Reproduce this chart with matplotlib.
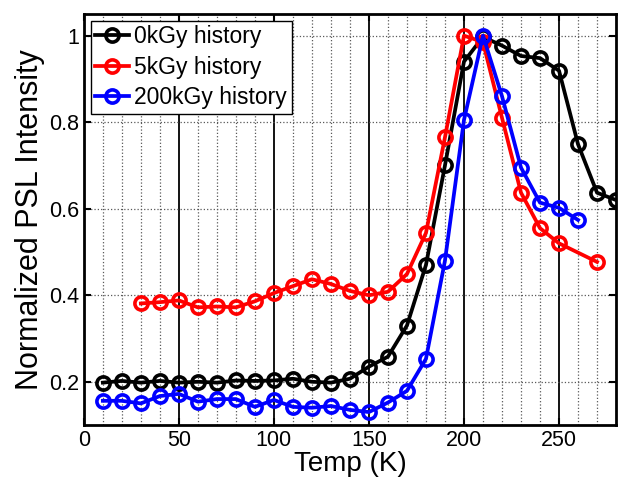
import numpy as np
import matplotlib
matplotlib.use("Agg")
import matplotlib.pyplot as plt
from matplotlib.ticker import MultipleLocator

plt.rcParams['font.family'] = ['Liberation Sans', 'DejaVu Sans']

# datos
T0 = [10, 20, 30, 40, 50, 60, 70, 80, 90, 100, 110, 120, 130, 140, 150,
      160, 170, 180, 190, 200, 210, 220, 230, 240, 250, 260, 270, 280]
I0 = [0.198, 0.202, 0.198, 0.202, 0.198, 0.200, 0.198, 0.203, 0.202, 0.203,
      0.207, 0.200, 0.198, 0.207, 0.235, 0.258, 0.330, 0.470, 0.700, 0.940,
      0.997, 0.977, 0.953, 0.948, 0.919, 0.749, 0.637, 0.620]

T5 = [30, 40, 50, 60, 70, 80, 90, 100, 110, 120, 130, 140, 150, 160, 170,
      180, 190, 200, 210, 220, 230, 240, 250, 270]
I5 = [0.381, 0.384, 0.388, 0.372, 0.374, 0.372, 0.386, 0.405, 0.421, 0.437,
      0.426, 0.410, 0.400, 0.408, 0.449, 0.544, 0.765, 1.000, 0.985, 0.810,
      0.637, 0.555, 0.520, 0.477]

T200 = [10, 20, 30, 40, 50, 60, 70, 80, 90, 100, 110, 120, 130, 140, 150,
        160, 170, 180, 190, 200, 210, 220, 230, 240, 250, 260]
I200 = [0.156, 0.156, 0.150, 0.167, 0.172, 0.154, 0.160, 0.160, 0.142, 0.158,
        0.142, 0.140, 0.144, 0.135, 0.130, 0.152, 0.179, 0.253, 0.480, 0.805,
        1.000, 0.860, 0.695, 0.614, 0.602, 0.574]

Series = [(T0, I0, "k", "0kGy history"),
          (T5, I5, "r", "5kGy history"),
          (T200, I200, "b", "200kGy history")]

fig = plt.figure(figsize=(6.21, 4.83), dpi=100)
ax = fig.add_axes([0.135, 0.12, 0.857, 0.851])

for T, I, c, Name in Series:
	ax.plot(T, I, "-o", color=c, lw=2.7, ms=9.5, mfc="none", mew=2.6, label=Name)

ax.set_xlim(0, 280) ; ax.set_ylim(0.1, 1.05)
ax.xaxis.set_major_locator(MultipleLocator(50))
ax.xaxis.set_minor_locator(MultipleLocator(10))
ax.set_yticks([0.2, 0.4, 0.6, 0.8, 1.0])
ax.set_yticklabels(["0.2", "0.4", "0.6", "0.8", "1"])

# rejilla estilo matlab
ax.grid(True, which="major", axis="x", color="k", ls="-", lw=1.3)
ax.grid(True, which="minor", axis="x", color="0.35", ls=":", lw=0.9)
ax.grid(True, which="major", axis="y", color="0.35", ls=":", lw=0.9)
ax.set_axisbelow(True)

ax.tick_params(which="both", direction="in", top=True, right=True, labelsize=15.5)
ax.tick_params(which="major", length=5, width=1.5)
ax.tick_params(which="minor", length=0)
for s in ax.spines.values():
	s.set_linewidth(2)

ax.set_xlabel("Temp (K)", fontsize=20, labelpad=0)
ax.set_ylabel("Normalized PSL Intensity", fontsize=22, labelpad=3)

leg = ax.legend(loc="upper left", fontsize=16.5, fancybox=False, framealpha=1,
                edgecolor="k", borderpad=0.2, labelspacing=0.32,
                handlelength=1.45, handletextpad=0.25, borderaxespad=0.3)
leg.get_frame().set_linewidth(1)

fig.savefig("out.png", dpi=100)
